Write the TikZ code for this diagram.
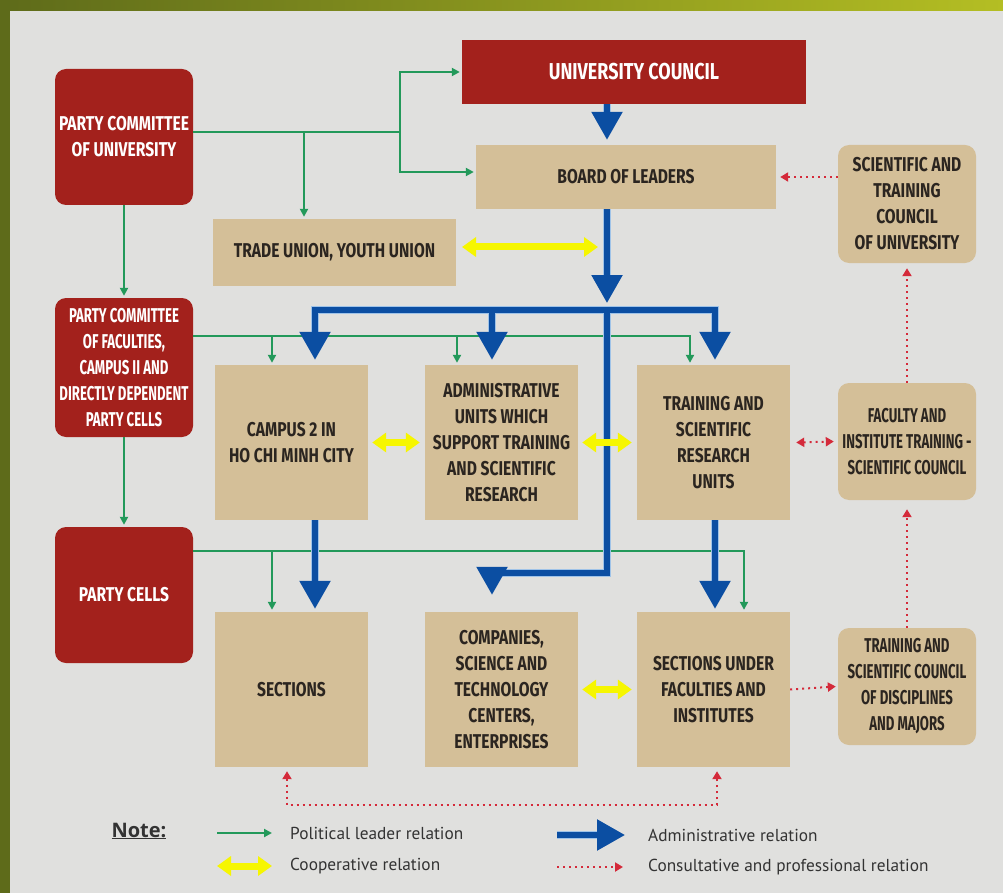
\documentclass[tikz,border=0pt]{standalone}
\usepackage{fontspec}
\usetikzlibrary{arrows.meta,calc}
\newfontfamily\cond[FakeStretch=0.78]{Fira Sans}
\newfontfamily\condn[FakeStretch=0.66]{Fira Sans}
\newfontfamily\legfont{PT Sans}
\newfontfamily\notefont{Open Sans}
\definecolor{bgc}{HTML}{E0E0DE}
\definecolor{olivedark}{HTML}{5E6B1A}
\definecolor{olivelight}{HTML}{B4BE23}
\definecolor{cred}{HTML}{A3211C}
\definecolor{ctan}{HTML}{D4BF98}
\definecolor{ctext}{HTML}{2B2520}
\definecolor{cgreen}{HTML}{23995A}
\definecolor{cblue}{HTML}{0B4EA2}
\definecolor{chalo}{HTML}{9FC3E8}
\definecolor{cyellow}{HTML}{F6F600}
\definecolor{cdot}{HTML}{D42A3A}
\definecolor{clegend}{HTML}{333333}
\tikzset{
  box/.style={inner sep=0pt, align=center, font=\cond\bfseries\fontsize{20}{26}\selectfont},
  nbox/.style={box, font=\condn\bfseries\fontsize{20}{26}\selectfont},
  redbox/.style={fill=cred, text=white},
  tanbox/.style={fill=ctan, text=ctext},
  rnd/.style={rounded corners=11pt},
  sz/.style 2 args={minimum width=#1pt, minimum height=#2pt},
  gline/.style={draw=cgreen, line width=2pt},
  garrow/.style={gline, -{Triangle[width=8pt,length=8pt]}, shorten >=2pt},
  bhalo/.style={draw=chalo, line width=8.5pt},
  barrow/.style={draw=cblue, line width=5.5pt, -{Triangle[width=30pt,length=28pt]}},
  yarrow/.style={draw=cyellow, line width=7pt, {Triangle[width=19pt,length=14pt]}-{Triangle[width=19pt,length=14pt]}},
  rline/.style={draw=cdot, line width=2pt, dash pattern=on 2pt off 4pt},
  rarrow/.style={rline, -{Triangle[width=9pt,length=8pt]}},
  rdarrow/.style={rline, {Triangle[width=9pt,length=8pt]}-{Triangle[width=9pt,length=8pt]}},
  legtext/.style={anchor=west, inner sep=0pt, text=clegend, font=\legfont\fontsize{17.3}{19}\selectfont},
}
\newcommand\bluenet[3]{%
  \draw[#1, shorten >=5pt+#3] (bj |- uc.south) -- (bj |- bol.north);
  \draw[#1, shorten >=0pt+#3] (bj |- bol.south) -- (bt);
  \draw[#1, shorten >=5pt+#3] (bj) -- (bl) -- (bl |- campus.north);
  \draw[#1, shorten >=5pt+#3] (bj) -- (br) -- (br |- tsru.north);
  \draw[#1, shorten >=5pt+#3] (bm) -- (bm |- admin.north);
  \draw[#1, shorten >=17pt+#3] (bj) -- (bk) -- (bc) -- (bc |- companies.north);
  \draw[#1, shorten >=3pt+#3] (bl |- campus.south) -- (bl |- sections.north);
  \draw[#1, shorten >=3pt+#3] (br |- tsru.south) -- (br |- sufi.north);
  \draw[#2, shorten >=0pt+#3] (lb1) -- (lb2);
}
\begin{document}
\begin{tikzpicture}[x=1pt,y=-1pt]
\useasboundingbox (0,0) rectangle (1003,893);
\fill[bgc] (0,0) rectangle (1003,893);
\shade[left color=olivedark, right color=olivelight] (0,0) rectangle (1003,11);
\fill[olivedark] (0,0) rectangle (10,893);

% nodes
\node[box, redbox, rnd, sz={138}{136}] (pcu) at (124,137) {PARTY COMMITTEE\\OF UNIVERSITY};
\node[box, redbox, sz={344}{64}, font=\cond\bfseries\fontsize{23}{26}\selectfont] (uc) at (634,72) {UNIVERSITY COUNCIL};
\node[box, tanbox, sz={300}{64}] (bol) at (626,177) {BOARD OF LEADERS};
\node[box, tanbox, rnd, sz={138}{118}] (stc) at (907,204) {SCIENTIFIC AND\\TRAINING\\COUNCIL\\OF UNIVERSITY};
\node[box, tanbox, sz={243}{67}] (tu) at (334.5,252.5) {TRADE UNION, YOUTH UNION};
\node[nbox, redbox, rnd, sz={138}{139}] (pcf) at (124,367.5) {PARTY COMMITTEE\\OF FACULTIES,\\CAMPUS II AND\\DIRECTLY DEPENDENT\\PARTY CELLS};
\node[box, tanbox, sz={153}{155}] (campus) at (291.5,442.5) {CAMPUS 2 IN\\HO CHI MINH CITY};
\node[box, tanbox, sz={153}{155}] (admin) at (501.5,442.5) {ADMINISTRATIVE\\UNITS WHICH\\SUPPORT TRAINING\\AND SCIENTIFIC\\RESEARCH};
\node[box, tanbox, sz={153}{155}] (tsru) at (713.5,442.5) {TRAINING AND\\SCIENTIFIC\\RESEARCH\\UNITS};
\node[nbox, tanbox, rnd, sz={138}{117}] (fitsc) at (907,441.5) {FACULTY AND\\INSTITUTE TRAINING -\\SCIENTIFIC COUNCIL};
\node[box, redbox, rnd, sz={138}{136}] (pc) at (124,595) {PARTY CELLS};
\node[box, tanbox, sz={153}{155}] (sections) at (291.5,689.5) {SECTIONS};
\node[box, tanbox, sz={153}{155}] (companies) at (501.5,689.5) {COMPANIES,\\SCIENCE AND\\TECHNOLOGY\\CENTERS,\\ENTERPRISES};
\node[box, tanbox, sz={153}{155}] (sufi) at (713.5,689.5) {SECTIONS UNDER\\FACULTIES AND\\INSTITUTES};
\node[nbox, tanbox, rnd, sz={138}{117}] (tscdm) at (907,686.5) {TRAINING AND\\SCIENTIFIC COUNCIL\\OF DISCIPLINES\\AND MAJORS};

% coordinates
\coordinate (g1) at (400,132);
\coordinate (g2) at (304,132);
\coordinate (g3) at (690,336);
\coordinate (g3a) at (272,336);
\coordinate (g3b) at (457,336);
\coordinate (g4) at (744,551);
\coordinate (g4a) at (272,551);
\coordinate (bj) at (607,310);
\coordinate (bt) at (607,303);
\coordinate (bl) at (315,310);
\coordinate (bm) at (492,310);
\coordinate (br) at (715,310);
\coordinate (bk) at (607,573);
\coordinate (bc) at (492,573);
\coordinate (y1s) at (462,247);
\coordinate (y1e) at (598,247);
\coordinate (d1) at (287,805);
\coordinate (d2) at (717,805);
\coordinate (lg1) at (217,833);
\coordinate (lg2) at (272,833);
\coordinate (ly1) at (217,866);
\coordinate (ly2) at (272,866);
\coordinate (lb1) at (557,835);
\coordinate (lb2) at (625,835);
\coordinate (lr1) at (557,867);
\coordinate (lr2) at (623,867);

% green political relations
\draw[gline] (g1 -| pcu.east) -- (g1);
\draw[garrow] (g1) |- (uc.west);
\draw[garrow] (g1) |- ([yshift=5pt]bol.west);
\draw[garrow] (g2) -- (g2 |- tu.north);
\draw[garrow] (pcu.south) -- (pcf.north);
\draw[garrow] (g3 -| pcf.east) -- (g3) -- (g3 |- tsru.north);
\draw[garrow] (g3a) -- (g3a |- campus.north);
\draw[garrow] (g3b) -- (g3b |- admin.north);
\draw[garrow] (pcf.south) -- (pc.north);
\draw[garrow] (g4 -| pc.east) -- (g4) -- (g4 |- sufi.north);
\draw[garrow] (g4a) -- (g4a |- sections.north);

% blue administrative relations
\bluenet{bhalo}{bhalo}{22pt}
\bluenet{barrow}{barrow}{0pt}

% yellow cooperative relations
\draw[yarrow] (y1s) -- (y1e);
\draw[yarrow] ([xshift=4pt]campus.east) -- ([xshift=-5pt]admin.west);
\draw[yarrow] ([xshift=4pt]admin.east) -- ([xshift=-5pt]tsru.west);
\draw[yarrow] ([xshift=4pt]companies.east) -- ([xshift=-5pt]sufi.west);

% red consultative relations
\draw[rarrow] (stc.west |- bol.east) -- ([xshift=4pt]bol.east);
\draw[rarrow] (fitsc.north) -- ([yshift=-5pt]stc.south);
\draw[rarrow] (tscdm.north) -- ([yshift=-9pt]fitsc.south);
\draw[rdarrow] ([xshift=6pt]tsru.east) -- ([xshift=-4pt]fitsc.west);
\draw[rarrow] (sufi.east) -- ([xshift=-2pt]tscdm.west);
\draw[rdarrow] ($(sections.south -| d1)+(0,4)$) -- (d1) -- (d2) -- ($(sufi.south -| d2)+(0,4)$);

% legend
\node[inner sep=0pt, text=clegend, font=\notefont\bfseries\fontsize{20}{22}\selectfont] (note) at (139,831) {\underline{Note:}};
\draw[garrow, shorten >=0pt] (lg1) -- (lg2);
\node[legtext] (t1) at (290,833) {Political leader relation};
\draw[yarrow] (ly1) -- (ly2);
\node[legtext] (t2) at (290,866) {Cooperative relation};
\node[legtext] (t3) at (648,835) {Administrative relation};
\draw[rarrow] (lr1) -- (lr2);
\node[legtext] (t4) at (648,867) {Consultative and professional relation};
\end{tikzpicture}
\end{document}
